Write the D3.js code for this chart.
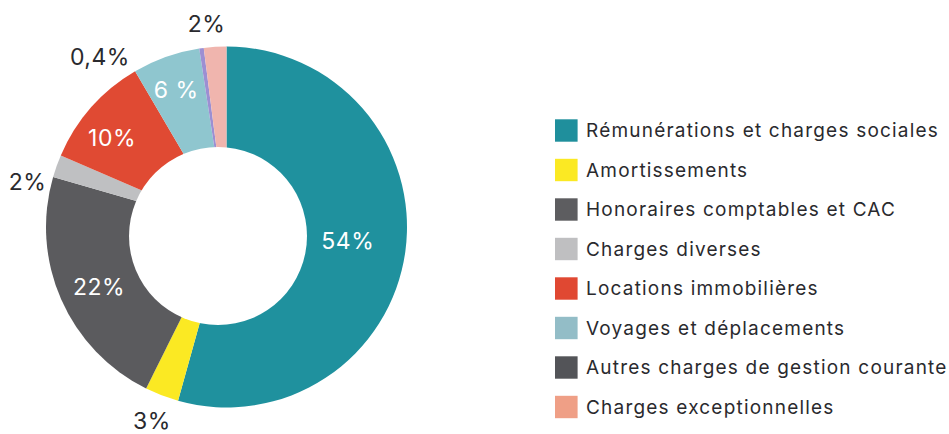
<!DOCTYPE html>
<html><head><meta charset="utf-8">
<script src="https://cdn.jsdelivr.net/npm/d3@7"></script>
<style>html,body{margin:0;padding:0;background:#fff;}svg{display:block;}</style>
</head><body>
<script>
const categories = ["Rémunérations et charges sociales","Amortissements","Honoraires comptables et CAC","Charges diverses","Locations immobilières","Voyages et déplacements","Autres charges de gestion courante","Charges exceptionnelles"];
const values = [54, 3, 22, 2, 10, 6, 0.4, 2];
const valueLabels = ["54%","3%","22%","2%","10%","6 %","0,4%","2%"];
const sliceColors = ["#1f919e","#fbe923","#5b5b5e","#bfc0c2","#e04a33","#8fc6cf","#9c8fd2","#f0b5ae"];
const legendColors = ["#1f8f9c","#fbe923","#5d5d60","#bfbfc1","#e04832","#93bdc7","#535458","#ef9f86"];

// label placement (styling): radius, angle shift (deg), inside?
const labelRadius = [122, 208, 141, 204, 145, 146, 212, 204];
const labelShift = [-1.5, 0, -1.5, -7, -3.6, -0.6, -28.7, -2];
const labelInside = [true,false,true,false,true,true,false,false];

const W = 949, H = 434;
const svg = d3.select("body").append("svg").attr("width", W).attr("height", H);
const cx = 226.5, cy = 227, R = 180.5;
const font = "'Inter', 'Roboto', sans-serif";

const pie = d3.pie().sort(null).value(d => d).startAngle(0).endAngle(2*Math.PI);
const arcs = pie(values);
const arc = d3.arc().innerRadius(0).outerRadius(R);

const g = svg.append("g").attr("transform", `translate(${cx},${cy})`);
g.selectAll("path.slice").data(arcs).join("path")
  .attr("class","slice")
  .attr("d", arc)
  .attr("fill", (d,i) => sliceColors[i]);

// donut hole
svg.append("circle").attr("cx", 218).attr("cy", 236).attr("r", 89).attr("fill", "#fff");

// labels
g.selectAll("text.lbl").data(arcs).join("text")
  .attr("class","lbl")
  .attr("x", (d,i) => { const a = (d.startAngle + d.endAngle)/2 + labelShift[i]*Math.PI/180; return labelRadius[i]*Math.sin(a); })
  .attr("y", (d,i) => { const a = (d.startAngle + d.endAngle)/2 + labelShift[i]*Math.PI/180; return -labelRadius[i]*Math.cos(a); })
  .attr("dy", "0.36em")
  .attr("text-anchor", "middle")
  .attr("font-family", font)
  .attr("font-size", 23)
  .attr("letter-spacing", 0.5)
  .attr("fill", (d,i) => labelInside[i] ? "#ffffff" : "#2a2a2e")
  .text((d,i) => valueLabels[i]);

// legend
const ly = d3.scalePoint().domain(categories).range([130.5, 407]);
const leg = svg.append("g");
const items = leg.selectAll("g").data(categories).join("g")
  .attr("transform", d => `translate(555,${ly(d)})`);
items.append("rect").attr("x",0).attr("y",-11.2).attr("width",22.6).attr("height",22.4)
  .attr("fill", (d,i) => legendColors[i]);
items.append("text").attr("x", 31).attr("y", 0).attr("dy","0.36em")
  .attr("font-family", font).attr("font-size", 19).attr("letter-spacing", 1.2).attr("fill", "#2a2a2e")
  .text(d => d);
</script>
</body></html>
